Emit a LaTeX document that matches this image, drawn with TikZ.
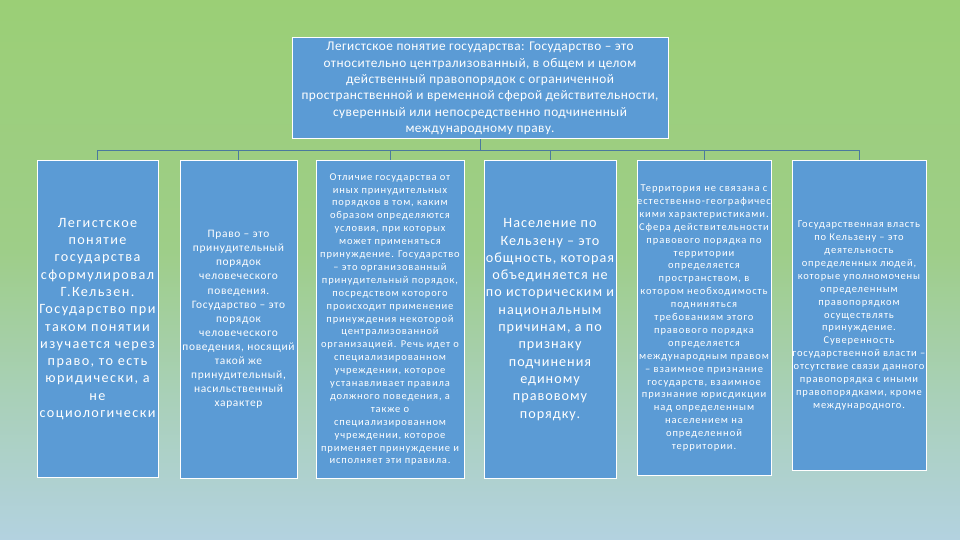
\documentclass[tikz,border=0pt]{standalone}
\usepackage{fontspec}
\setmainfont{Carlito}
\definecolor{boxblue}{HTML}{5B9BD5}
\definecolor{connc}{HTML}{4A7A9E}
\definecolor{bgGreen}{HTML}{9BCF76}
\definecolor{bgGreenB}{HTML}{9ECE88}
\definecolor{bgMid}{HTML}{A9D0B9}
\definecolor{bgBlue}{HTML}{B3D2E0}
\pgfdeclareverticalshading{bgshade}{100bp}{color(0bp)=(bgBlue); color(25bp)=(bgBlue); color(38bp)=(bgMid); color(52bp)=(bgGreenB); color(75bp)=(bgGreen); color(100bp)=(bgGreen)}
\tikzset{
  card/.style={draw=white, line width=1pt, fill=boxblue, text=white, align=center, inner sep=0pt},
  conn/.style={draw=connc, line width=0.9pt},
  fA/.style={font=\fontsize{13.3}{16.3}\selectfont\addfontfeature{LetterSpace=3.5}},
  fB/.style={font=\fontsize{14.2}{17.3}\selectfont\addfontfeature{LetterSpace=#1}},
  fC/.style={font=\fontsize{11.4}{14.1}\selectfont\addfontfeature{LetterSpace=6}},
  fD/.style={font=\fontsize{10.5}{12.9}\selectfont\addfontfeature{LetterSpace=#1}},
}
\begin{document}
\begin{tikzpicture}[x=1pt,y=-1pt]
\shade[shading=bgshade] (0,0) rectangle (960,540);
\useasboundingbox (0,0) rectangle (960,540);

\node[card,fA,minimum width=376pt,minimum height=101pt] (top) at (480,88.5)
 {Легистское понятие государства: Государство – это\\
  относительно централизованный, в общем и целом\\
  действенный правопорядок с ограниченной\\
  пространственной и временной сферой действительности,\\
  суверенный или непосредственно подчиненный\\
  международному праву.};

\node[card,fB=10,minimum width=121pt,minimum height=316pt] (b1) at (97.5,319)
 {Легистское\\ понятие\\ государства\\ сформулировал\\ Г.Кельзен.\\ Государство при\\ таком понятии\\ изучается через\\ право, то есть\\ юридически, а\\ не\\ социологически};

\node[card,fC,minimum width=117pt,minimum height=317pt] (b2) at (238.5,319.5)
 {Право – это\\ принудительный\\ порядок\\ человеческого\\ поведения.\\ Государство – это\\ порядок\\ человеческого\\ поведения, носящий\\ такой же\\ принудительный,\\ насильственный\\ характер};

\node[card,fD=8,minimum width=148pt,minimum height=317pt] (b3) at (390,319.5)
 {Отличие государства от\\ иных принудительных\\ порядков в том, каким\\ образом определяются\\ условия, при которых\\ может применяться\\ принуждение. Государство\\ – это организованный\\ принудительный порядок,\\ посредством которого\\ происходит применение\\ принуждения некоторой\\ централизованной\\ организацией. Речь идет о\\ специализированном\\ учреждении, которое\\ устанавливает правила\\ должного поведения, а\\ также о\\ специализированном\\ учреждении, которое\\ применяет принуждение и\\ исполняет эти правила.};

\node[card,fB=7,minimum width=132pt,minimum height=317pt] (b4) at (550,319.5)
 {Население по\\ Кельзену – это\\ общность, которая\\ объединяется не\\ по историческим и\\ национальным\\ причинам, а по\\ признаку\\ подчинения\\ единому\\ правовому\\ порядку.};

\node[card,fD=9,minimum width=134pt,minimum height=314pt] (b5) at (704,318)
 {Территория не связана с\\ естественно-географичес\\ кими характеристиками.\\ Сфера действительности\\ правового порядка по\\ территории\\ определяется\\ пространством, в\\ котором необходимость\\ подниняться\\ требованиям этого\\ правового порядка\\ определяется\\ международным правом\\ – взаимное признание\\ государств, взаимное\\ признание юрисдикции\\ над определенным\\ населением на\\ определенной\\ территории.};

\node[card,fD=8,minimum width=134pt,minimum height=309pt] (b6) at (859,315.5)
 {Государственная власть\\ по Кельзену – это\\ деятельность\\ определенных людей,\\ которые уполномочены\\ определенным\\ правопорядком\\ осуществлять\\ принуждение.\\ Суверенность\\ государственной власти –\\ отсутствие связи данного\\ правопорядка с иными\\ правопорядками, кроме\\ международного.};

\coordinate (bus) at (480,150.5);
\draw[conn] (top.south) -- (bus);
\foreach \b in {b1,b2,b3,b4,b5,b6}
  \draw[conn] (bus) -| (\b.north);
\end{tikzpicture}
\end{document}
